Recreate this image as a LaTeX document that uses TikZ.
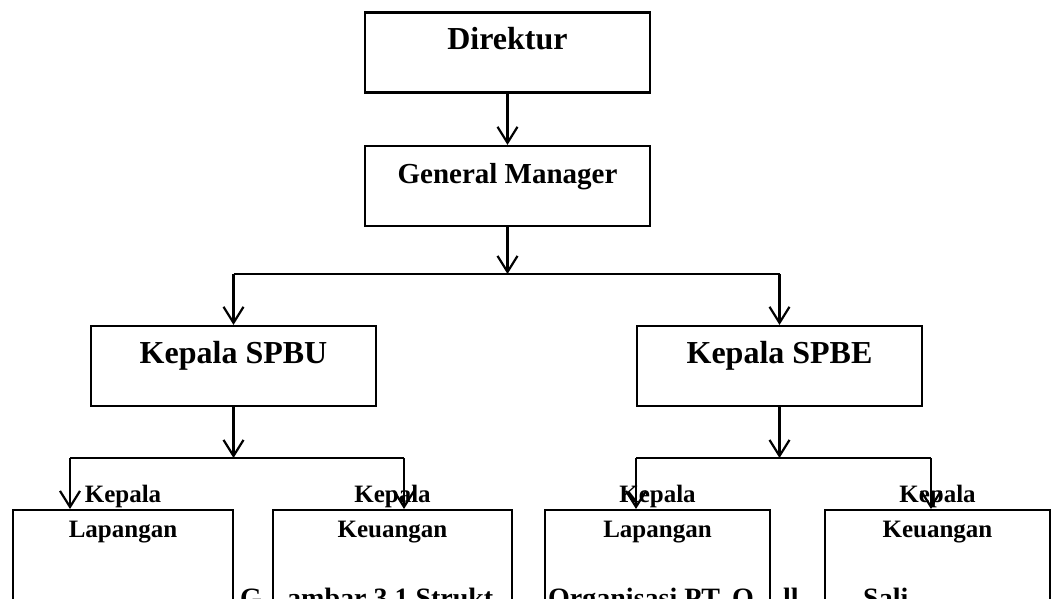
\documentclass[tikz,border=0pt]{standalone}
\usepackage{fontspec}
\setmainfont{Liberation Serif}
\usetikzlibrary{arrows.meta, positioning}

\begin{document}
\begin{tikzpicture}[x=1pt,y=-1pt,
          box/.style={draw,line width=2.2pt,minimum width=285pt,minimum height=80pt,
                      inner sep=0pt,text height=22pt,text depth=28pt,
                      font=\bfseries\fontsize{32}{36}\selectfont},
          subbox/.style={draw,line width=2.2pt,minimum height=140pt,inner sep=0pt,anchor=north},
          sublbl/.style={anchor=north,align=center,inner sep=0pt,
                      font=\bfseries\fontsize{25}{35}\selectfont},
          captxt/.style={anchor=base west,inner sep=0pt,font=\bfseries\fontsize{28}{32}\selectfont},
          arr/.style={line width=2.2pt,-{Straight Barb[length=16pt,width=20pt]}}]
        \useasboundingbox (0,0) rectangle (1059,599);
        \clip (0,0) rectangle (1059,599);
        % caption (partly hidden behind the lower boxes)
        \node[captxt](c1) at (240,607){G};
        \node[captxt](c2) at (287,607){ambar 3.1 Strukt};
        \node[captxt](c3) at (548,607){Organisasi PT. O};
        \node[captxt](c4) at (783,607){ll};
        \node[captxt](c5) at (863,607){Sali};
        % upper levels
        \node[box](dir)  at (507.5,52.5){Direktur};
        \node[box,font=\bfseries\fontsize{29}{34}\selectfont](gm) at (507.5,186){General Manager};
        \node[box](spbu) at (233.5,366){Kepala SPBU};
        \node[box](spbe) at (779.5,366){Kepala SPBE};
        % lower level
        \node[subbox,minimum width=220pt](lap1) at (123,509){};
        \node[subbox,minimum width=239pt](keu1) at (392.5,509){};
        \node[subbox,minimum width=225pt](lap2) at (657.5,509){};
        \node[subbox,minimum width=225pt](keu2) at (937.5,509){};
        \node[sublbl](t1) at (123,485){Kepala\\Lapangan};
        \node[sublbl](t2) at (392.5,485){Kepala\\Keuangan};
        \node[sublbl](t3) at (657.5,485){Kepala\\Lapangan};
        \node[sublbl](t4) at (937.5,485){Kepala\\Keuangan};
        % bus lines
        \coordinate (bus0) at (507.5,274);
        \coordinate (busl) at (233.5,458);
        \coordinate (busr) at (779.5,458);
        \coordinate (b1) at (70,458);
        \coordinate (b2) at (404,458);
        \coordinate (b3) at (636,458);
        \coordinate (b4) at (931,458);
        \draw[arr](dir)--(gm);
        \draw[arr](gm.south)--(bus0);
        \draw[line width=2.2pt](spbu.north|-bus0)--(spbe.north|-bus0);
        \draw[arr](spbu.north|-bus0)--(spbu.north);
        \draw[arr](spbe.north|-bus0)--(spbe.north);
        \draw[arr](spbu.south)--(busl);
        \draw[arr](spbe.south)--(busr);
        \draw[line width=2.2pt](b1)--(b2);
        \draw[line width=2.2pt](b3)--(b4);
        \draw[arr](b1)--(b1|-lap1.north);
        \draw[arr](b2)--(b2|-keu1.north);
        \draw[arr](b3)--(b3|-lap2.north);
        \draw[arr](b4)--(b4|-keu2.north);
      \end{tikzpicture}
\end{document}
